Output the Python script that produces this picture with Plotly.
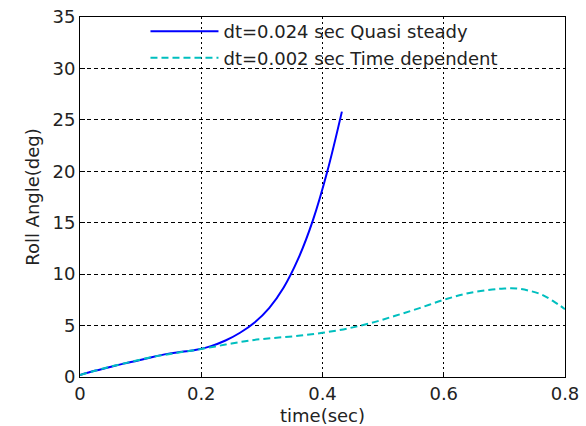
import plotly.graph_objects as go

# Quasi steady, dt = 0.024 s
t_qs = [0.0, 0.024, 0.048, 0.072, 0.096, 0.120, 0.144, 0.168, 0.192, 0.216,
        0.240, 0.264, 0.288, 0.312, 0.336, 0.360, 0.384, 0.408, 0.432]
roll_qs = [0.2, 0.6, 0.95, 1.3, 1.6, 1.95, 2.25, 2.45, 2.65, 3.0,
           3.55, 4.3, 5.3, 6.7, 8.7, 11.5, 15.2, 20.0, 25.8]

# Time dependent, dt = 0.002 s (sampled)
t_td = [0.0, 0.04, 0.08, 0.12, 0.16, 0.20, 0.24, 0.28, 0.32, 0.36, 0.40,
        0.44, 0.48, 0.52, 0.56, 0.60, 0.64, 0.68, 0.70, 0.72, 0.74, 0.76, 0.78, 0.80]
roll_td = [0.2, 0.85, 1.42, 1.95, 2.35, 2.72, 3.15, 3.55, 3.8, 4.0, 4.3,
           4.7, 5.25, 5.95, 6.7, 7.5, 8.15, 8.5, 8.6, 8.6, 8.4, 8.05, 7.4, 6.6]

x_ticks = [0, 0.2, 0.4, 0.6, 0.8]
y_ticks = [0, 5, 10, 15, 20, 25, 30, 35]

FONT = "DejaVu Sans"

fig = go.Figure()
fig.add_trace(go.Scatter(x=t_qs, y=roll_qs, mode="lines", line_shape="spline",
                         name="dt=0.024 sec Quasi steady",
                         line=dict(color="#0000ff", width=2)))
fig.add_trace(go.Scatter(x=t_td, y=roll_td, mode="lines", line_shape="spline",
                         name="dt=0.002 sec Time dependent",
                         line=dict(color="#00bfbf", width=2, dash="7px,4px")))

fig.update_layout(
    width=586, height=426,
    margin=dict(l=80, r=21, t=17, b=49),
    paper_bgcolor="white", plot_bgcolor="white",
    font=dict(family=FONT, size=18, color="#222"),
    showlegend=True,
    legend=dict(x=0.135, y=1.011, xanchor="left", yanchor="top",
                bgcolor="rgba(0,0,0,0)", borderwidth=0,
                font=dict(family=FONT, size=18, color="#222"),
                itemwidth=68, tracegroupgap=0),
    xaxis=dict(range=[0, 0.8], tickvals=x_ticks, ticktext=["0", "0.2", "0.4", "0.6", "0.8"],
               showgrid=True, gridcolor="#000", gridwidth=1, griddash="2px,3px",
               zeroline=False, showline=True, linecolor="#000", linewidth=1, mirror=True,
               ticks="inside", ticklen=5, tickcolor="#000", automargin=False,
               title=dict(text="time(sec)", standoff=6, font=dict(size=18))),
    yaxis=dict(range=[0, 35], tickvals=y_ticks,
               showgrid=True, gridcolor="#000", gridwidth=1, griddash="4px,3px",
               zeroline=False, showline=True, linecolor="#000", linewidth=1, mirror=True,
               ticks="inside", ticklen=5, tickcolor="#000", automargin=False,
               title=dict(text="Roll Angle(deg)", standoff=8, font=dict(size=18))),
)

fig.write_html("out.html")
